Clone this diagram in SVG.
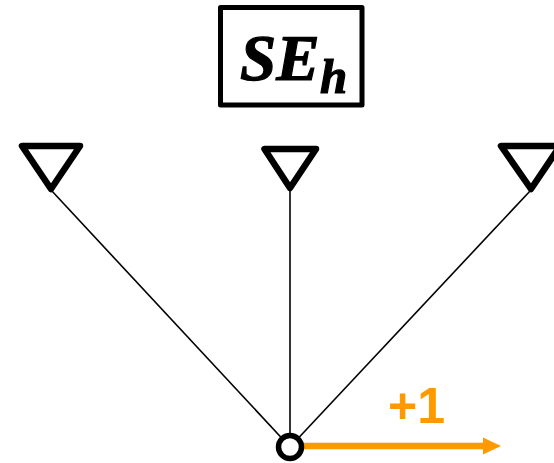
<svg xmlns="http://www.w3.org/2000/svg" width="554" height="463" viewBox="0 0 554 463">
<style>
.tri{fill:none;stroke:#000;stroke-width:6.500;stroke-linejoin:round}
.wire{stroke:#000;stroke-width:1.600;fill:none}
.math{font-family:"Liberation Serif",serif;font-weight:700;font-style:italic;fill:#000;stroke:#000;stroke-width:1.200;text-rendering:geometricPrecision}
</style>
<defs>
<marker id="head" markerUnits="userSpaceOnUse" markerWidth="18" markerHeight="18" refX="0" refY="9" orient="auto"><path d="M0 0.500L18 9L0 17.500Z" fill="#FF9900"/></marker>
</defs>
<rect width="554" height="463" fill="#fff"/>
<g id="connectors">
<path class="wire" d="M51 190L290 447"/>
<path class="wire" d="M290 188V447"/>
<path class="wire" d="M531 190L290 447"/>
<path d="M303 446H483" stroke="#FF9900" stroke-width="6.500" fill="none" marker-end="url(#head)"/>
</g>
<g id="box">
<rect x="220.500" y="7.500" width="141.500" height="97.500" fill="#fff" stroke="#000" stroke-width="5" stroke-linejoin="round"/>
<text class="math" x="240" y="80" font-size="65">SE</text>
<text class="math" x="320" y="93" font-size="49">h</text>
</g>
<g id="antenna-left"><path class="tri" d="M22 146H80L51 189Z"/></g>
<g id="antenna-center"><path class="tri" d="M264.500 149H316L290 188Z"/></g>
<g id="antenna-right"><path class="tri" d="M501 146H560L531 189Z"/></g>
<g id="node"><circle cx="290" cy="447" r="11.500" fill="#fff" stroke="#000" stroke-width="5.500"/></g>
<text id="label" x="388" y="423" font-family="'Liberation Sans',Arial,sans-serif" font-weight="700" font-size="50" fill="#FF9900">+1</text>
</svg>
